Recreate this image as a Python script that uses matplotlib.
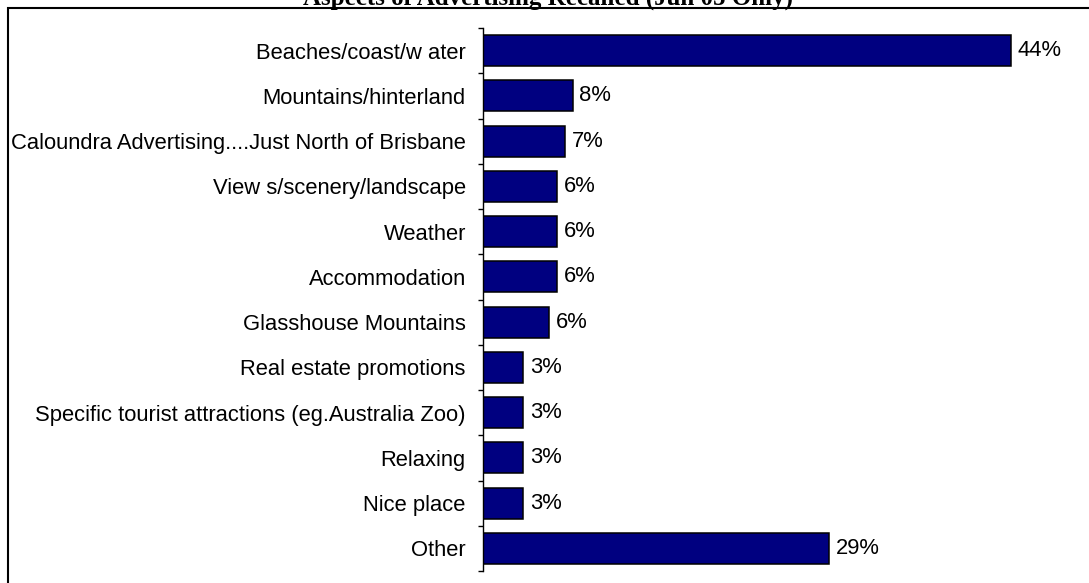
import matplotlib.pyplot as plt
from matplotlib.patches import Rectangle

categories = ['Beaches/coast/w ater', 'Mountains/hinterland',
              'Caloundra Advertising....Just North of Brisbane',
              'View s/scenery/landscape', 'Weather', 'Accommodation',
              'Glasshouse Mountains', 'Real estate promotions',
              'Specific tourist attractions (eg.Australia Zoo)',
              'Relaxing', 'Nice place', 'Other']
percent = [44.0, 7.5, 6.9, 6.2, 6.2, 6.2, 5.5, 3.4, 3.4, 3.4, 3.4, 28.9]

W, H = 1089, 583
fig = plt.figure(figsize=(W / 100, H / 100), dpi=100)
ax = fig.add_axes([482.5 / W, (H - 571) / H, 600 / W, 543 / H])

pos = range(len(categories))
bars = ax.barh(pos, percent, height=0.68, color='#000080',
               edgecolor='black', linewidth=1.1)

for b, v in zip(bars, percent):
    ax.annotate(f'{v:.0f}%', (b.get_width(), b.get_y() + b.get_height() / 2),
                xytext=(5, 0), textcoords='offset points', va='center',
                ha='left', fontsize=15.8, family='Liberation Sans')

ax.set_xlim(0, 50)
ax.set_ylim(len(categories) - 0.5, -0.5)
ax.set_yticks(list(pos))
ax.set_yticklabels(categories, fontsize=15.8, family='Liberation Sans')
ax.tick_params(axis='y', which='major', length=0, pad=12)
ax.set_yticks([i - 0.5 for i in range(len(categories) + 1)], minor=True)
ax.tick_params(axis='y', which='minor', length=3.6, width=1, direction='out')
ax.set_xticks([])
for s in ['top', 'right', 'bottom']:
    ax.spines[s].set_visible(False)
ax.spines['left'].set_linewidth(1)

# outer frame around the chart area
fig.add_artist(Rectangle((8 / W, -0.1), 1.2, (H - 8) / H + 0.1,
                         transform=fig.transFigure, fill=False,
                         edgecolor='black', linewidth=1.5))

fig.text(548 / W, 1 - 4.5 / H, 'Aspects of Advertising Recalled (Jun 05 Only)',
         ha='center', va='baseline', fontsize=18, fontweight='bold',
         family='Liberation Serif')

fig.savefig('out.png', dpi=100)
